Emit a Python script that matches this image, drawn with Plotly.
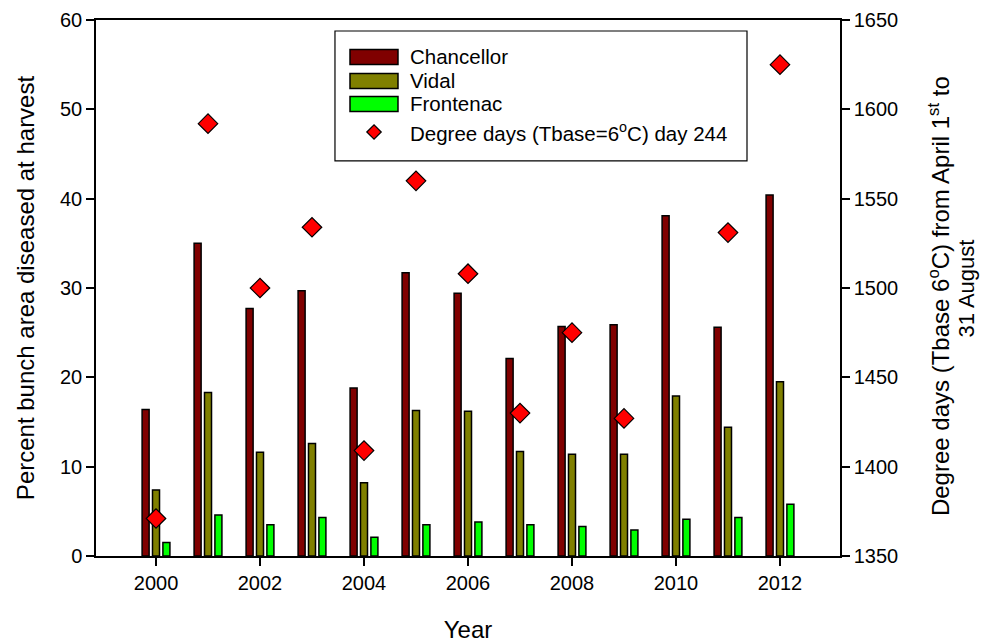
import plotly.graph_objects as go

# Harvest years
years = [2000, 2001, 2002, 2003, 2004, 2005, 2006, 2007, 2008, 2009, 2010, 2011, 2012]

# Percent bunch area diseased at harvest, per cultivar
chancellor = [16.4, 35.0, 27.7, 29.7, 18.8, 31.7, 29.4, 22.1, 25.7, 25.9, 38.1, 25.6, 40.4]
vidal = [7.4, 18.3, 11.6, 12.6, 8.2, 16.3, 16.2, 11.7, 11.4, 11.4, 17.9, 14.4, 19.5]
frontenac = [1.5, 4.6, 3.5, 4.3, 2.1, 3.5, 3.8, 3.5, 3.3, 2.9, 4.1, 4.3, 5.8]

# Degree days (Tbase = 6 °C) accumulated to day 244; no value for 2010
degree_days = [1371, 1592, 1500, 1534, 1409, 1560, 1508, 1430, 1475, 1427, None, 1531, 1625]

x_tick_labels = ["2000", "2002", "2004", "2006", "2008", "2010", "2012"]

COL_CHAN = "#800000"
COL_VIDAL = "#808000"
COL_FRONT = "#00FF00"
COL_DD = "#FF0000"
FONT = "Liberation Sans, Arial, sans-serif"

fig = go.Figure()

for name, vals, col in [("Chancellor", chancellor, COL_CHAN),
                        ("Vidal", vidal, COL_VIDAL),
                        ("Frontenac", frontenac, COL_FRONT)]:
    fig.add_trace(go.Bar(
        x=years, y=vals, name=name,
        marker=dict(color=col, line=dict(color="black", width=1.5)),
        showlegend=False,
    ))

fig.add_trace(go.Scatter(
    x=years, y=degree_days, yaxis="y2", mode="markers",
    name="Degree days (Tbase=6\u00b0C) day 244",
    marker=dict(symbol="diamond", size=15, color=COL_DD,
                line=dict(color="black", width=1.2)),
    showlegend=False,
))

# Hand-drawn legend box inside the plot area (paper coordinates)
shapes = [dict(type="rect", xref="paper", yref="paper",
               x0=0.3212, x1=0.875, y0=0.737, y1=0.9795,
               line=dict(color="black", width=1.2), fillcolor="white", layer="above")]
annotations = []
legend_rows = [("Chancellor", COL_CHAN, 0.9310),
               ("Vidal", COL_VIDAL, 0.8862),
               ("Frontenac", COL_FRONT, 0.8433)]
for label, col, yc in legend_rows:
    shapes.append(dict(type="rect", xref="paper", yref="paper",
                       x0=0.3414, x1=0.4059, y0=yc - 0.014, y1=yc + 0.014,
                       line=dict(color="black", width=1.5), fillcolor=col, layer="above"))
    annotations.append(dict(xref="paper", yref="paper", x=0.4200, y=yc,
                            xanchor="left", yanchor="middle", showarrow=False,
                            text=label, font=dict(family=FONT, size=20.5, color="black")))
yd = 0.7910
xd = 0.3737
dx, dy = 0.0097, 0.0134
shapes.append(dict(type="path", xref="paper", yref="paper",
                   path=f"M {xd - dx} {yd} L {xd} {yd + dy} L {xd + dx} {yd} L {xd} {yd - dy} Z",
                   line=dict(color="black", width=1.2), fillcolor=COL_DD, layer="above"))
annotations.append(dict(xref="paper", yref="paper", x=0.4200, y=yd,
                        xanchor="left", yanchor="middle", showarrow=False,
                        text="Degree days (Tbase=6<sup>o</sup>C) day 244",
                        font=dict(family=FONT, size=20.5, color="black")))

# Right-hand axis title, two rotated lines
annotations.append(dict(xref="paper", yref="paper", x=1.1331, y=0.485,
                        xanchor="center", yanchor="middle", showarrow=False, textangle=-90,
                        text="Degree days (Tbase 6<sup>o</sup>C) from April 1<sup>st</sup> to",
                        font=dict(family=FONT, size=24, color="black")))
annotations.append(dict(xref="paper", yref="paper", x=1.1700, y=0.50,
                        xanchor="center", yanchor="middle", showarrow=False, textangle=-90,
                        text="31 August", borderpad=0,
                        font=dict(family=FONT, size=22, color="black")))

axis_common = dict(showline=True, linecolor="black", linewidth=1.5,
                   ticks="outside", ticklen=8, tickwidth=1.5, tickcolor="black",
                   showgrid=False, zeroline=False, automargin=False,
                   tickfont=dict(family=FONT, size=20, color="black"))

fig.update_layout(
    width=984, height=643,
    margin=dict(l=96, r=144, t=20, b=87),
    paper_bgcolor="white", plot_bgcolor="white",
    barmode="group", bargap=0.4, bargroupgap=0.325,
    font=dict(family=FONT, color="black"),
    xaxis=dict(range=[1998.846, 2013.154],
               tickvals=[int(t) for t in x_tick_labels], ticktext=x_tick_labels,
               mirror=True,
               title=dict(text="Year", font=dict(family=FONT, size=24), standoff=30),
               **axis_common),
    yaxis=dict(range=[0, 60], dtick=10,
               title=dict(text="Percent bunch area diseased at harvest",
                          font=dict(family=FONT, size=24), standoff=19),
               **axis_common),
    yaxis2=dict(range=[1350, 1650], dtick=50, overlaying="y", side="right",
                **axis_common),
    shapes=shapes,
    annotations=annotations,
)

fig.write_html("out.html")
